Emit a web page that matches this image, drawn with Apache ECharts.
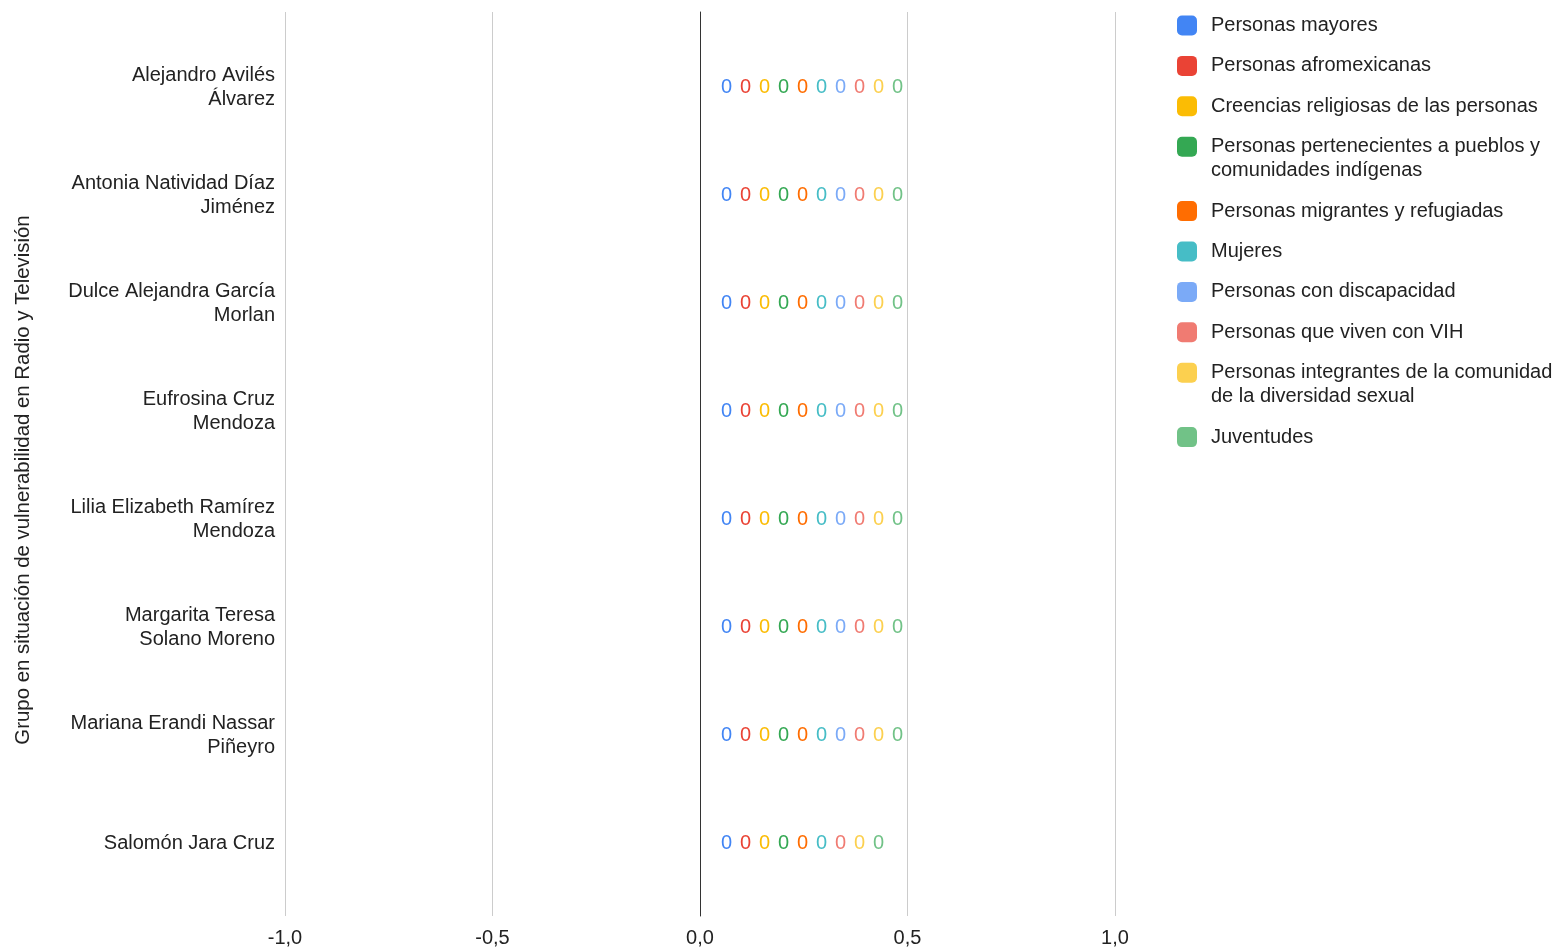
<!DOCTYPE html>
<html>
<head>
<meta charset="utf-8">
<script src="https://cdn.jsdelivr.net/npm/echarts@6/dist/echarts.min.js"></script>
<style>
html,body{margin:0;padding:0;background:#fff;}
#chart{width:1564px;height:949px;}
</style>
</head>
<body>
<div id="chart"></div>
<script>
const categories = [
  "Alejandro Avilés\nÁlvarez",
  "Antonia Natividad Díaz\nJiménez",
  "Dulce Alejandra García\nMorlan",
  "Eufrosina Cruz\nMendoza",
  "Lilia Elizabeth Ramírez\nMendoza",
  "Margarita Teresa\nSolano Moreno",
  "Mariana Erandi Nassar\nPiñeyro",
  "Salomón Jara Cruz"
];
const seriesNames = [
  "Personas mayores",
  "Personas afromexicanas",
  "Creencias religiosas de las personas",
  "Personas pertenecientes a pueblos y comunidades indígenas",
  "Personas migrantes y refugiadas",
  "Mujeres",
  "Personas con discapacidad",
  "Personas que viven con VIH",
  "Personas integrantes de la comunidad de la diversidad sexual",
  "Juventudes"
];
const seriesColors = ["#4285F4","#EA4335","#FBBC04","#34A853","#FF6D01","#46BDC6","#7BAAF7","#F07B72","#FCD04F","#71C287"];
const personasMayores        = [0,0,0,0,0,0,0,0];
const personasAfromexicanas  = [0,0,0,0,0,0,0,0];
const creenciasReligiosas    = [0,0,0,0,0,0,0,0];
const pueblosIndigenas       = [0,0,0,0,0,0,0,0];
const migrantesRefugiadas    = [0,0,0,0,0,0,0,0];
const mujeres                = [0,0,0,0,0,0,0,0];
const conDiscapacidad        = [0,0,0,0,0,0,0,null];
const vivenConVIH            = [0,0,0,0,0,0,0,0];
const diversidadSexual       = [0,0,0,0,0,0,0,0];
const juventudes             = [0,0,0,0,0,0,0,0];
const seriesValues = [personasMayores, personasAfromexicanas, creenciasReligiosas, pueblosIndigenas,
  migrantesRefugiadas, mujeres, conDiscapacidad, vivenConVIH, diversidadSexual, juventudes];
const xTicks = [-1, -0.5, 0, 0.5, 1];

const FONT = 'Arial, "Liberation Sans", sans-serif';
const TXT = '#222222';
const LABEL_STEP = 19;

// rank of a series among non-null values in a category (for label spacing)
function rankOf(ci, si) {
  let r = 0;
  for (let k = 0; k < si; k++) if (seriesValues[k][ci] != null) r++;
  return r;
}

const series = seriesNames.map((name, si) => ({
  name: name,
  type: 'bar',
  xAxisIndex: 1,
  yAxisIndex: 1,
  barGap: '-100%',
  color: seriesColors[si],
  itemStyle: { color: seriesColors[si] },
  label: {
    show: true,
    position: 'right',
    distance: 21,
    color: seriesColors[si],
    fontSize: 20,
    fontFamily: FONT,
    formatter: p => String(p.value)
  },
  data: seriesValues[si].map((v, ci) => ({
    value: v,
    label: { offset: [rankOf(ci, si) * LABEL_STEP, 0] }
  }))
}));

// legend: one component per item so the icon sits against the first text line
const measureCtx = document.createElement('canvas').getContext('2d');
measureCtx.font = '20px Arial, "Liberation Sans", sans-serif';
const LEG_W = 352;
function lineCount(text) {
  const words = text.split(' ');
  let lines = 1, cur = '';
  words.forEach(w => {
    const t = cur ? cur + ' ' + w : w;
    if (measureCtx.measureText(t).width > LEG_W && cur) { lines++; cur = w; } else cur = t;
  });
  return lines;
}
const legends = [];
let iconCenter = 25.5;
seriesNames.forEach((name, i) => {
  const n = lineCount(name);
  const totalLines = 2 * n - 1;           // (n-1) blank lines above keep line 1 on the icon
  const boxH = 24 * totalLines;
  const top = (iconCenter - 10) - (boxH / 2 - 10);
  legends.push({
    data: [name],
    left: 1177,
    top: top,
    padding: 0,
    itemWidth: 20,
    itemHeight: 20,
    icon: 'roundRect',
    selectedMode: false,
    formatter: nm => '\n'.repeat(n - 1) + nm,
    textStyle: {
      fontSize: 20,
      fontFamily: FONT,
      color: TXT,
      lineHeight: 24,
      width: LEG_W,
      overflow: 'break',
      padding: [0, 0, 0, 9]
    }
  });
  iconCenter += 24 * n + 16.4;
});

const chart = echarts.init(document.getElementById('chart'), null, { renderer: 'canvas' });
chart.setOption({
  animation: false,
  backgroundColor: '#ffffff',
  textStyle: { fontFamily: FONT },
  grid: [
    { left: 285, right: 449, top: 12, bottom: 33 },
    { left: 285, right: 449, top: 33, bottom: 52 }
  ],
  xAxis: [
    {
      gridIndex: 0, type: 'value', min: xTicks[0], max: xTicks[xTicks.length - 1], interval: 0.5,
      axisLine: { show: false }, axisTick: { show: false },
      splitLine: { show: true, lineStyle: { color: '#cccccc', width: 1 } },
      axisLabel: {
        fontSize: 20, color: TXT, fontFamily: FONT, margin: 12,
        formatter: v => v.toFixed(1).replace('.', ',')
      }
    },
    {
      gridIndex: 1, type: 'value', min: xTicks[0], max: xTicks[xTicks.length - 1], show: false
    }
  ],
  yAxis: [
    {
      gridIndex: 0, type: 'value', min: 0, max: 1,
      axisLine: { show: true, onZero: true, lineStyle: { color: '#333333', width: 1 } },
      axisTick: { show: false }, axisLabel: { show: false }, splitLine: { show: false }
    },
    {
      gridIndex: 1, type: 'category', inverse: true, data: categories,
      axisLine: { show: false }, axisTick: { show: false }, splitLine: { show: false },
      axisLabel: { fontSize: 20, color: TXT, fontFamily: FONT, lineHeight: 24, margin: 10, align: 'right' }
    }
  ],
  legend: legends,
  graphic: [{
    type: 'text',
    x: 23, y: 480,
    rotation: Math.PI / 2,
    style: {
      text: 'Grupo en situación de vulnerabilidad en Radio y Televisión',
      fill: TXT,
      font: '20.4px Arial, "Liberation Sans", sans-serif',
      textAlign: 'center',
      textVerticalAlign: 'middle'
    }
  }],
  series: series
});
</script>
</body>
</html>
